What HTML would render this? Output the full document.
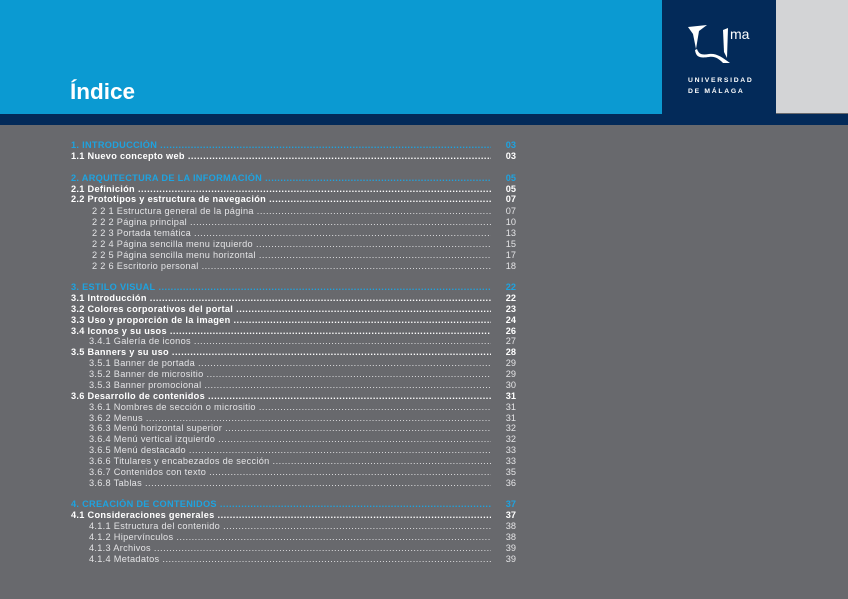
<!DOCTYPE html>
<html><head><meta charset="utf-8"><style>
*{margin:0;padding:0}
body{width:848px;height:599px;position:relative;overflow:hidden;background:#68696d;font-family:"Liberation Sans","DejaVu Sans",sans-serif}
.top{position:absolute;left:0;top:0;width:662px;height:114px;background:#0b9ad2}
.navy{position:absolute;left:662px;top:0;width:114px;height:114px;background:#032a59}
.gray{position:absolute;left:776px;top:0;width:72px;height:113px;background:#d3d4d6}
.band{position:absolute;left:0;top:114px;width:848px;height:11px;background:#032a59}
h1{position:absolute;left:70px;top:78px;color:#fff;font-size:22.5px;font-weight:bold;line-height:28px}
.r{position:absolute;left:71px;width:420px;height:11px;font-size:9.2px;line-height:11px;color:#fff;white-space:nowrap;overflow:hidden;display:flex;letter-spacing:0.3px}
.r span.l{flex:none;padding-right:3px}
.r span.d{flex:1;overflow:hidden;letter-spacing:0.5px}
.r.b{font-weight:bold}
.r.h{color:#1ea3e0;font-weight:bold}
.r.s{color:#e4e4e6}
.n{position:absolute;left:496px;width:20px;text-align:right;font-size:9.2px;line-height:11px;color:#fff;font-weight:bold}
.n.h{color:#1ea3e0}
.n.s{font-weight:normal;color:#e4e4e6}
</style></head><body>
<div class="top"></div><div class="navy">
<svg width="114" height="114" viewBox="0 0 114 114">
<path d="M26 27 L45 25 L37 31 L34 49 L31 34 Z" fill="#fff"/>
<path d="M33 50 C34 58 39 58 47 57 C53 56 57 59 61 63 L68 63 C60 57 54 53 47 54 C41 55 37 55 35 49 Z" fill="#fff"/>
<path d="M61 30 L66 28 L65 58 L62 52 Z" fill="#fff"/>
<text x="68" y="39" fill="#fff" font-size="14" font-family="Liberation Sans,sans-serif">ma</text>
<text x="26" y="82" fill="#fff" font-size="6.8" letter-spacing="1.7" font-family="Liberation Sans,sans-serif" font-weight="bold">UNIVERSIDAD</text>
<text x="26" y="93" fill="#fff" font-size="6.8" letter-spacing="1.7" font-family="Liberation Sans,sans-serif" font-weight="bold">DE MÁLAGA</text>
</svg></div><div class="gray"></div><div class="band"></div>
<h1>Índice</h1>

<div class="r h" style="top:140px"><span class="l">1. INTRODUCCIÓN</span><span class="d">.........................................................................................................................................</span></div><div class="n h" style="top:140px">03</div>
<div class="r b" style="top:151px"><span class="l">1.1 Nuevo concepto web</span><span class="d">.........................................................................................................................................</span></div><div class="n" style="top:151px">03</div>

<div class="r h" style="top:173px"><span class="l">2. ARQUITECTURA DE LA INFORMACIÓN</span><span class="d">.........................................................................................................................................</span></div><div class="n h" style="top:173px">05</div>
<div class="r b" style="top:184px"><span class="l">2.1 Definición</span><span class="d">.........................................................................................................................................</span></div><div class="n" style="top:184px">05</div>
<div class="r b" style="top:194px"><span class="l">2.2 Prototipos y estructura de navegación</span><span class="d">.........................................................................................................................................</span></div><div class="n" style="top:194px">07</div>
<div class="r s" style="top:206px;left:92px;width:399px"><span class="l">2 2 1 Estructura general de la página</span><span class="d">.........................................................................................................................................</span></div><div class="n s" style="top:206px">07</div>
<div class="r s" style="top:217px;left:92px;width:399px"><span class="l">2 2 2 Página principal</span><span class="d">.........................................................................................................................................</span></div><div class="n s" style="top:217px">10</div>
<div class="r s" style="top:228px;left:92px;width:399px"><span class="l">2 2 3 Portada temática</span><span class="d">.........................................................................................................................................</span></div><div class="n s" style="top:228px">13</div>
<div class="r s" style="top:239px;left:92px;width:399px"><span class="l">2 2 4 Página sencilla menu izquierdo</span><span class="d">.........................................................................................................................................</span></div><div class="n s" style="top:239px">15</div>
<div class="r s" style="top:250px;left:92px;width:399px"><span class="l">2 2 5 Página sencilla menu horizontal</span><span class="d">.........................................................................................................................................</span></div><div class="n s" style="top:250px">17</div>
<div class="r s" style="top:261px;left:92px;width:399px"><span class="l">2 2 6 Escritorio personal</span><span class="d">.........................................................................................................................................</span></div><div class="n s" style="top:261px">18</div>

<div class="r h" style="top:282px"><span class="l">3. ESTILO VISUAL</span><span class="d">.........................................................................................................................................</span></div><div class="n h" style="top:282px">22</div>
<div class="r b" style="top:293px"><span class="l">3.1 Introducción</span><span class="d">.........................................................................................................................................</span></div><div class="n" style="top:293px">22</div>
<div class="r b" style="top:304px"><span class="l">3.2 Colores corporativos del portal</span><span class="d">.........................................................................................................................................</span></div><div class="n" style="top:304px">23</div>
<div class="r b" style="top:315px"><span class="l">3.3 Uso y proporción de la imagen</span><span class="d">.........................................................................................................................................</span></div><div class="n" style="top:315px">24</div>
<div class="r b" style="top:326px"><span class="l">3.4 Iconos y su usos</span><span class="d">.........................................................................................................................................</span></div><div class="n" style="top:326px">26</div>
<div class="r s" style="top:336px;left:89px;width:402px"><span class="l">3.4.1 Galería de iconos</span><span class="d">.........................................................................................................................................</span></div><div class="n s" style="top:336px">27</div>
<div class="r b" style="top:347px"><span class="l">3.5 Banners y su uso</span><span class="d">.........................................................................................................................................</span></div><div class="n" style="top:347px">28</div>
<div class="r s" style="top:358px;left:89px;width:402px"><span class="l">3.5.1 Banner de portada</span><span class="d">.........................................................................................................................................</span></div><div class="n s" style="top:358px">29</div>
<div class="r s" style="top:369px;left:89px;width:402px"><span class="l">3.5.2 Banner de micrositio</span><span class="d">.........................................................................................................................................</span></div><div class="n s" style="top:369px">29</div>
<div class="r s" style="top:380px;left:89px;width:402px"><span class="l">3.5.3 Banner promocional</span><span class="d">.........................................................................................................................................</span></div><div class="n s" style="top:380px">30</div>
<div class="r b" style="top:391px"><span class="l">3.6 Desarrollo de contenidos</span><span class="d">.........................................................................................................................................</span></div><div class="n" style="top:391px">31</div>
<div class="r s" style="top:402px;left:89px;width:402px"><span class="l">3.6.1 Nombres de sección o micrositio</span><span class="d">.........................................................................................................................................</span></div><div class="n s" style="top:402px">31</div>
<div class="r s" style="top:413px;left:89px;width:402px"><span class="l">3.6.2 Menus</span><span class="d">.........................................................................................................................................</span></div><div class="n s" style="top:413px">31</div>
<div class="r s" style="top:423px;left:89px;width:402px"><span class="l">3.6.3 Menú horizontal superior</span><span class="d">.........................................................................................................................................</span></div><div class="n s" style="top:423px">32</div>
<div class="r s" style="top:434px;left:89px;width:402px"><span class="l">3.6.4 Menú vertical izquierdo</span><span class="d">.........................................................................................................................................</span></div><div class="n s" style="top:434px">32</div>
<div class="r s" style="top:445px;left:89px;width:402px"><span class="l">3.6.5 Menú destacado</span><span class="d">.........................................................................................................................................</span></div><div class="n s" style="top:445px">33</div>
<div class="r s" style="top:456px;left:89px;width:402px"><span class="l">3.6.6 Titulares y encabezados de sección</span><span class="d">.........................................................................................................................................</span></div><div class="n s" style="top:456px">33</div>
<div class="r s" style="top:467px;left:89px;width:402px"><span class="l">3.6.7 Contenidos con texto</span><span class="d">.........................................................................................................................................</span></div><div class="n s" style="top:467px">35</div>
<div class="r s" style="top:478px;left:89px;width:402px"><span class="l">3.6.8 Tablas</span><span class="d">.........................................................................................................................................</span></div><div class="n s" style="top:478px">36</div>

<div class="r h" style="top:499px"><span class="l">4. CREACIÓN DE CONTENIDOS</span><span class="d">.........................................................................................................................................</span></div><div class="n h" style="top:499px">37</div>
<div class="r b" style="top:510px"><span class="l">4.1 Consideraciones generales</span><span class="d">.........................................................................................................................................</span></div><div class="n" style="top:510px">37</div>
<div class="r s" style="top:521px;left:89px;width:402px"><span class="l">4.1.1 Estructura del contenido</span><span class="d">.........................................................................................................................................</span></div><div class="n s" style="top:521px">38</div>
<div class="r s" style="top:532px;left:89px;width:402px"><span class="l">4.1.2 Hipervínculos</span><span class="d">.........................................................................................................................................</span></div><div class="n s" style="top:532px">38</div>
<div class="r s" style="top:543px;left:89px;width:402px"><span class="l">4.1.3 Archivos</span><span class="d">.........................................................................................................................................</span></div><div class="n s" style="top:543px">39</div>
<div class="r s" style="top:554px;left:89px;width:402px"><span class="l">4.1.4 Metadatos</span><span class="d">.........................................................................................................................................</span></div><div class="n s" style="top:554px">39</div>
</body></html>
